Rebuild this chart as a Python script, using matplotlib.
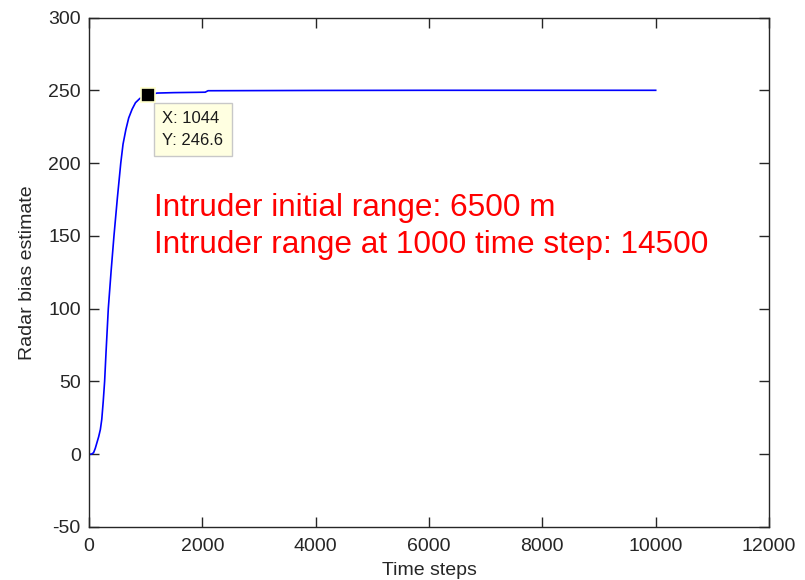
import numpy as np
import matplotlib
matplotlib.use('Agg')
import matplotlib.pyplot as plt

# values
time_steps = [0, 40, 80, 110, 140, 170, 200, 225, 250, 275, 300, 340, 390, 440, 500,
              560, 600, 650, 700, 760, 820, 900, 1044, 1200, 1500, 1900, 2050, 2100,
              4000, 6000, 8000, 10000]
bias_estimate = [0, 0, 1, 4, 8, 12, 17, 24, 36, 50, 70, 100, 126, 150, 176,
                 200, 213, 223, 231, 237, 241.5, 244.5, 246.6, 248.1, 248.4, 248.6, 248.7, 249.7,
                 249.9, 250, 250, 250]

tip_x = 1044
tip_y = 246.6

note_lines = ["Intruder initial range: 6500 m",
              "Intruder range at 1000 time step: 14500"]

x_ticks = [0, 2000, 4000, 6000, 8000, 10000, 12000]
y_ticks = [-50, 0, 50, 100, 150, 200, 250, 300]

plt.rcParams['font.family'] = ['Liberation Sans', 'DejaVu Sans']
plt.rcParams['axes.unicode_minus'] = False

fig = plt.figure(figsize=(8.05, 5.8), dpi=100)
ax = fig.add_axes([0.1106, 0.0914, 0.8447, 0.8784])

ax.plot(time_steps, bias_estimate, color='#0000ff', lw=1.2)

ax.set_xlim(0, 12000)
ax.set_ylim(-50, 300)
ax.set_xticks(x_ticks)
ax.set_yticks(y_ticks)
ax.tick_params(direction='in', length=7, width=1, labelsize=14, colors='#262626',
               top=True, right=True)
ax.tick_params(axis='x', pad=8)
ax.tick_params(axis='y', pad=6)
for s in ax.spines.values():
    s.set_color('#262626')
    s.set_linewidth(1)

ax.set_xlabel('Time steps', fontsize=14, color='#262626', labelpad=5)
ax.set_ylabel('Radar bias estimate', fontsize=14, color='#262626', labelpad=9)

# data tip
ax.plot([tip_x], [tip_y], marker='s', color='black', markersize=10,
        markeredgecolor='#ffffcc', markeredgewidth=1.2, zorder=5)
ax.annotate(f"X: {tip_x}\nY: {tip_y}", xy=(tip_x, tip_y), xytext=(14, -16),
            textcoords='offset pixels', ha='left', va='top', fontsize=12,
            linespacing=1.55, color='#1a1a1a',
            bbox=dict(boxstyle='square,pad=0.5', fc='#ffffe1', ec='#c8c8c8', lw=1))

ax.text(0.095, 0.611, note_lines[0], transform=ax.transAxes, color='#ff0000',
        fontsize=22.7, va='baseline', ha='left')
ax.text(0.095, 0.537, note_lines[1], transform=ax.transAxes, color='#ff0000',
        fontsize=22.7, va='baseline', ha='left')

fig.savefig('out.png', dpi=100)
